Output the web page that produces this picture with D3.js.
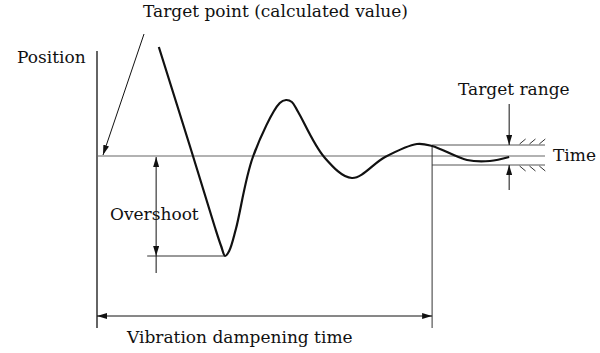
<!DOCTYPE html>
<html>
<head>
<meta charset="utf-8">
<script src="https://cdn.jsdelivr.net/npm/d3@7"></script>
<style>
  body { margin: 0; background: #fff; }
  svg text { font-family: "DejaVu Serif", "Liberation Serif", serif; font-size: 17px; fill: #111; }
</style>
</head>
<body>
<svg id="chart" width="600" height="353"></svg>
<script>
// response curve: time vs position (target = 0)
const times = [1.38, 2.08, 2.63, 2.77, 2.86, 2.95, 3.10, 3.48, 4.08, 4.22, 4.35, 4.49, 5.07, 5.69, 6.43, 7.14, 7.48, 8.26, 8.77, 9.20];
const positions = [1.09, 0.09, -0.71, -0.90, -1.00, -0.95, -0.73, -0.01, 0.53, 0.56, 0.54, 0.44, -0.01, -0.22, -0.01, 0.12, 0.10, -0.04, -0.05, -0.01];

const targetBand = [0.11, -0.09];   // upper / lower limit of target range
const settleTime = 7.48;            // end of vibration dampening time
const overshoot = -1.0;

const labels = {
    target: "Target point (calculated value)",
    position: "Position",
    overshoot: "Overshoot",
    range: "Target range",
    time: "Time",
    damp: "Vibration dampening time"
};

const svg = d3.select('#chart');

const x = d3.scaleLinear().domain([0, 10]).range([97, 545]);
const y = d3.scaleLinear().domain([-1, 1.1]).range([256, 46]);

const defs = svg.append("defs");
function addMarker(id, orient) {
    defs.append("marker")
        .attr("id", id)
        .attr("viewBox", "0 0 10 6")
        .attr("refX", 10).attr("refY", 3)
        .attr("markerWidth", 10).attr("markerHeight", 6)
        .attr("markerUnits", "userSpaceOnUse")
        .attr("orient", orient)
        .append("path")
        .attr("d", "M0,0 L10,3 L0,6 Z")
        .attr("fill", "#111");
}
addMarker("arrowEnd", "auto");
addMarker("arrowStart", "auto-start-reverse");

function line(x1, y1, x2, y2, opts) {
    opts = opts || {};
    const l = svg.append("line")
        .attr("x1", x1).attr("y1", y1)
        .attr("x2", x2).attr("y2", y2)
        .attr("stroke", opts.color || "#333")
        .attr("stroke-width", opts.width || 1);
    if (opts.end) l.attr("marker-end", "url(#arrowEnd)");
    if (opts.start) l.attr("marker-start", "url(#arrowStart)");
    return l;
}

// vertical axis (position)
line(x(0), 51, x(0), 328, { color: "#111", width: 1.3 });

// target line / time axis
line(x(0), y(0), x(10), y(0), { color: "#666", width: 1.2 });

// target range band
line(x(settleTime), y(targetBand[0]), x(10), y(targetBand[0]), { color: "#555" });
line(x(settleTime), y(targetBand[1]), x(10), y(targetBand[1]), { color: "#555" });
line(x(settleTime), y(targetBand[0]), x(settleTime), 328, { color: "#333" });

// hatching at the band limits
const hatch = [9.5, 9.72, 9.94];
hatch.forEach(h => {
    line(x(h) - 3, y(targetBand[0]) - 1, x(h) + 3, y(targetBand[0]) - 6, { color: "#333" });
    line(x(h) - 3, y(targetBand[1]) + 1, x(h) + 3, y(targetBand[1]) + 6, { color: "#333" });
});

// target range arrows
const tEnd = times[times.length - 1];
line(x(tEnd), 104, x(tEnd), y(targetBand[0]), { color: "#111", end: true });
line(x(tEnd), 190, x(tEnd), y(targetBand[1]), { color: "#111", end: true });

// overshoot dimension
line(x(1.12), y(overshoot), x(times[4]), y(overshoot), { color: "#333" });
line(x(1.32), y(0) + 1, x(1.32), y(overshoot), { color: "#111", start: true, end: true });
line(x(1.32), y(overshoot), x(1.32), 273, { color: "#111" });

// vibration dampening time dimension
line(x(0), 316, x(settleTime), 316, { color: "#111", start: true, end: true });

// pointer to target point
line(144, 34, x(0) + 6, y(0) - 1, { color: "#111", end: true });

// response curve
const pts = times.map((t, i) => [t, positions[i]]);
svg.append("path")
    .datum(pts)
    .attr("fill", "none")
    .attr("stroke", "#111")
    .attr("stroke-width", 2.2)
    .attr("stroke-linejoin", "round")
    .attr("d", d3.line().x(d => x(d[0])).y(d => y(d[1])).curve(d3.curveCatmullRom.alpha(0.5)));

// labels
function text(str, tx, ty) {
    svg.append("text").attr("x", tx).attr("y", ty).text(str);
}
text(labels.target, 143, 17);
text(labels.position, 17, 63);
text(labels.overshoot, 110, 220);
text(labels.range, 458, 95);
text(labels.time, 553, 161);
text(labels.damp, 127, 343);
</script>
</body>
</html>
